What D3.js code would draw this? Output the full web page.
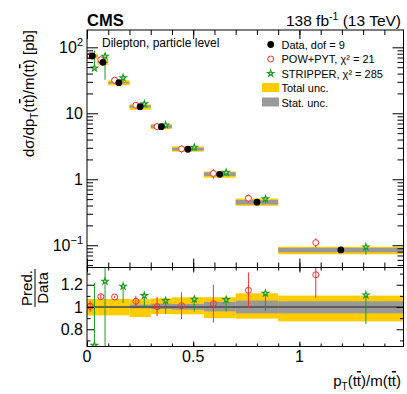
<!DOCTYPE html>
<html>
<head>
<meta charset="utf-8">
<script src="https://cdn.jsdelivr.net/npm/d3@7"></script>
<style>
  body { margin: 0; background: #fff; }
  text { font-family: "Liberation Sans", Arial, sans-serif; fill: #000; }
</style>
</head>
<body>
<script>
// bins in pT(tt)/m(tt)
var binEdges = [0, 0.05, 0.1, 0.2, 0.3, 0.4, 0.55, 0.7, 0.9, 1.49];
// measured cross section [pb]
var dataVal = [73.8, 59.3, 29.1, 12.6, 6.27, 2.85, 1.19, 0.449, 0.0849];
// relative uncertainties (up / down)
var totUp  = [0.072, 0.072, 0.072, 0.069, 0.078, 0.087, 0.087, 0.123, 0.102];
var totDn  = [0.075, 0.075, 0.075, 0.090, 0.063, 0.066, 0.100, 0.105, 0.129];
var statUp = [0.006, 0.006, 0.006, 0.021, 0.030, 0.027, 0.045, 0.057, 0.051];
var statDn = [0.006, 0.006, 0.006, 0.012, 0.018, 0.024, 0.039, 0.057, 0.057];
// predictions / data
var powRatio = [1.006, 1.093, 1.090, 1.051, 1.003, 1.012, 1.030, 1.150, 1.290];
var powErr   = [0.05, 0.02, 0.01, 0.05, 0.087, 0.12, 0.17, 0.16, 0.21];
var strRatio = [0.655, 1.231, 1.186, 1.102, 1.057, 1.069, 1.066, 1.123, 1.108];
var strErrUp = [0.56, 0.15, 0.02, 0.02, 0.02, 0.02, 0.02, 0.025, 0.025];
var strErrDn = [0.0, 0.69, 0.15, 0.11, 0.12, 0.11, 0.105, 0.16, 0.26];

var legendRows = ["Data, dof = 9", "POW+PYT, \u03C7\u00B2 = 21", "STRIPPER, \u03C7\u00B2 = 285", "Total unc.", "Stat. unc."];

var W = 407, H = 394;
var L = 87, R = 403.5;
var T1 = 30, B1 = 267.5, T2 = 267.5, B2 = 346.5;
var YEL = "#ffcc00", GRY = "#999999", RED = "#ff2a2a", GRN = "#1f9a1f";

var bins = dataVal.map(function(v, i) {
  return {i: i, lo: binEdges[i], hi: binEdges[i+1], v: v};
});

var x = d3.scaleLinear().domain([0, 1.49]).range([L, R]);
var yU = d3.scaleLog().domain([0.046, 183]).range([B1, T1]);
var yR = d3.scaleLinear().domain([0.645, 1.355]).range([B2, T2]);

function posAt(b, f) { return x(b.lo + f * (b.hi - b.lo)); }

var svg = d3.select("body").append("svg")
  .attr("width", W).attr("height", H);

var defs = svg.append("defs");
defs.append("clipPath").attr("id", "cu").append("rect")
  .attr("x", L).attr("y", T1).attr("width", R - L).attr("height", B1 - T1);
defs.append("clipPath").attr("id", "cr").append("rect")
  .attr("x", L).attr("y", T2).attr("width", R - L).attr("height", B2 - T2);

// ---------- upper panel ----------
var up = svg.append("g").attr("clip-path", "url(#cu)");

up.selectAll("rect.tot").data(bins).enter().append("rect")
  .attr("x", function(d) { return x(d.lo); })
  .attr("width", function(d) { return x(d.hi) - x(d.lo); })
  .attr("y", function(d) { return yU(d.v * (1 + totUp[d.i])) - 0.4; })
  .attr("height", function(d) { return yU(d.v * (1 - totDn[d.i])) - yU(d.v * (1 + totUp[d.i])) + 0.8; })
  .attr("fill", YEL);
up.selectAll("rect.stat").data(bins).enter().append("rect")
  .attr("x", function(d) { return x(d.lo); })
  .attr("width", function(d) { return x(d.hi) - x(d.lo); })
  .attr("y", function(d) { return yU(d.v * (1 + statUp[d.i])) - 0.6; })
  .attr("height", function(d) { return yU(d.v * (1 - statDn[d.i])) - yU(d.v * (1 + statUp[d.i])) + 1.2; })
  .attr("fill", GRY);

// predictions error bars
up.selectAll("line.pow").data(bins).enter().append("line")
  .attr("x1", function(d) { return posAt(d, 0.3); }).attr("x2", function(d) { return posAt(d, 0.3); })
  .attr("y1", function(d) { return yU(d.v * (powRatio[d.i] + powErr[d.i])); })
  .attr("y2", function(d) { return yU(d.v * (powRatio[d.i] - powErr[d.i])); })
  .attr("stroke", RED).attr("stroke-width", 1);
up.selectAll("line.str").data(bins).enter().append("line")
  .attr("x1", function(d) { return posAt(d, 0.7); }).attr("x2", function(d) { return posAt(d, 0.7); })
  .attr("y1", function(d) { return yU(d.v * (strRatio[d.i] + strErrUp[d.i])); })
  .attr("y2", function(d) { return yU(d.v * (strRatio[d.i] - strErrDn[d.i])); })
  .attr("stroke", GRN).attr("stroke-width", 1);

up.selectAll("circle.pow").data(bins).enter().append("circle")
  .attr("cx", function(d) { return posAt(d, 0.3); })
  .attr("cy", function(d) { return yU(d.v * powRatio[d.i]); })
  .attr("r", 3).attr("fill", "#fff").attr("stroke", RED).attr("stroke-width", 1);
var star = d3.symbol().type(d3.symbolStar).size(13);
up.selectAll("path.str").data(bins).enter().append("path")
  .attr("d", star)
  .attr("transform", function(d) { return "translate(" + posAt(d, 0.7) + "," + yU(d.v * strRatio[d.i]) + ")"; })
  .attr("fill", "#b5e6b5").attr("stroke", GRN).attr("stroke-width", 1.1);
up.selectAll("circle.dat").data(bins).enter().append("circle")
  .attr("cx", function(d) { return posAt(d, 0.5); })
  .attr("cy", function(d) { return yU(d.v); })
  .attr("r", 3.4).attr("fill", "#000");

// ---------- ratio panel ----------
var rp = svg.append("g").attr("clip-path", "url(#cr)");
rp.selectAll("rect.tot").data(bins).enter().append("rect")
  .attr("x", function(d) { return x(d.lo); })
  .attr("width", function(d) { return x(d.hi) - x(d.lo); })
  .attr("y", function(d) { return yR(1 + totUp[d.i]); })
  .attr("height", function(d) { return yR(1 - totDn[d.i]) - yR(1 + totUp[d.i]); })
  .attr("fill", YEL);
rp.selectAll("rect.stat").data(bins).enter().append("rect")
  .attr("x", function(d) { return x(d.lo); })
  .attr("width", function(d) { return x(d.hi) - x(d.lo); })
  .attr("y", function(d) { return yR(1 + statUp[d.i]); })
  .attr("height", function(d) { return yR(1 - statDn[d.i]) - yR(1 + statUp[d.i]); })
  .attr("fill", GRY);
rp.append("line")
  .attr("x1", L).attr("x2", R).attr("y1", yR(1)).attr("y2", yR(1))
  .attr("stroke", "#222").attr("stroke-width", 1);

rp.selectAll("line.pow").data(bins).enter().append("line")
  .attr("x1", function(d) { return posAt(d, 0.3); }).attr("x2", function(d) { return posAt(d, 0.3); })
  .attr("y1", function(d) { return yR(powRatio[d.i] + powErr[d.i]); })
  .attr("y2", function(d) { return yR(powRatio[d.i] - powErr[d.i]); })
  .attr("stroke", RED).attr("stroke-width", 1);
rp.selectAll("line.str").data(bins).enter().append("line")
  .attr("x1", function(d) { return posAt(d, 0.7); }).attr("x2", function(d) { return posAt(d, 0.7); })
  .attr("y1", function(d) { return yR(strRatio[d.i] + strErrUp[d.i]); })
  .attr("y2", function(d) { return yR(strRatio[d.i] - strErrDn[d.i]); })
  .attr("stroke", GRN).attr("stroke-width", 1);
rp.selectAll("circle.pow").data(bins).enter().append("circle")
  .attr("cx", function(d) { return posAt(d, 0.3); })
  .attr("cy", function(d) { return yR(powRatio[d.i]); })
  .attr("r", 3).attr("fill", "none").attr("stroke", RED).attr("stroke-width", 1);
rp.selectAll("path.str").data(bins).enter().append("path")
  .attr("d", star)
  .attr("transform", function(d) { return "translate(" + posAt(d, 0.7) + "," + yR(strRatio[d.i]) + ")"; })
  .attr("fill", "#b5e6b5").attr("stroke", GRN).attr("stroke-width", 1.1);

// ---------- axes / ticks ----------
function ticks(g, axis) {
  g.call(axis);
  g.select(".domain").remove();
  g.selectAll("line").attr("stroke", "#000");
  g.selectAll("text").remove();
}
var decades = [0.1, 1, 10, 100];
var minorsU = [];
[0.01, 0.1, 1, 10, 100].forEach(function(p) {
  for (var k = 2; k <= 9; k++) if (p * k > 0.046 && p * k < 183) minorsU.push(p * k);
});
var xMaj = [0, 0.5, 1];
var xMin = d3.range(1, 15).map(function(k) { return k / 10; });

ticks(svg.append("g").attr("transform", "translate(" + L + ",0)"), d3.axisLeft(yU).tickValues(decades).tickSize(-11));
ticks(svg.append("g").attr("transform", "translate(" + L + ",0)"), d3.axisLeft(yU).tickValues(minorsU).tickSize(-6));
ticks(svg.append("g").attr("transform", "translate(" + R + ",0)"), d3.axisRight(yU).tickValues(decades).tickSize(-11));
ticks(svg.append("g").attr("transform", "translate(" + R + ",0)"), d3.axisRight(yU).tickValues(minorsU).tickSize(-6));
ticks(svg.append("g").attr("transform", "translate(0," + B1 + ")"), d3.axisBottom(x).tickValues(xMaj).tickSize(-9));
ticks(svg.append("g").attr("transform", "translate(0," + B1 + ")"), d3.axisBottom(x).tickValues(xMin).tickSize(-5));
ticks(svg.append("g").attr("transform", "translate(0," + T1 + ")"), d3.axisTop(x).tickValues(xMaj).tickSize(-9));
ticks(svg.append("g").attr("transform", "translate(0," + T1 + ")"), d3.axisTop(x).tickValues(xMin).tickSize(-5));

var rMaj = [0.8, 1, 1.2];
var rMin = [0.7, 0.9, 1.1, 1.3];
ticks(svg.append("g").attr("transform", "translate(" + L + ",0)"), d3.axisLeft(yR).tickValues(rMaj).tickSize(-7));
ticks(svg.append("g").attr("transform", "translate(" + L + ",0)"), d3.axisLeft(yR).tickValues(rMin).tickSize(-3.5));
ticks(svg.append("g").attr("transform", "translate(" + R + ",0)"), d3.axisRight(yR).tickValues(rMaj).tickSize(-7));
ticks(svg.append("g").attr("transform", "translate(" + R + ",0)"), d3.axisRight(yR).tickValues(rMin).tickSize(-3.5));
ticks(svg.append("g").attr("transform", "translate(0," + B2 + ")"), d3.axisBottom(x).tickValues(xMaj).tickSize(-5));
ticks(svg.append("g").attr("transform", "translate(0," + B2 + ")"), d3.axisBottom(x).tickValues(xMin).tickSize(-3));
ticks(svg.append("g").attr("transform", "translate(0," + T2 + ")"), d3.axisTop(x).tickValues(xMaj).tickSize(-5));
ticks(svg.append("g").attr("transform", "translate(0," + T2 + ")"), d3.axisTop(x).tickValues(xMin).tickSize(-3));

// frames
svg.append("rect").attr("x", L).attr("y", T1).attr("width", R - L).attr("height", B1 - T1)
  .attr("fill", "none").attr("stroke", "#000").attr("stroke-width", 1);
svg.append("rect").attr("x", L).attr("y", T2).attr("width", R - L).attr("height", B2 - T2)
  .attr("fill", "none").attr("stroke", "#000").attr("stroke-width", 1);

// tick labels
var fs = 16;
var decLab = [{v: 100, b: "10", s: "2"}, {v: 10, b: "10", s: ""}, {v: 1, b: "1", s: ""}, {v: 0.1, b: "10", s: "\u22121"}];
decLab.forEach(function(d) {
  var t = svg.append("text").attr("x", L - 4).attr("y", yU(d.v) + 5.5)
    .attr("text-anchor", "end").attr("font-size", fs);
  t.append("tspan").text(d.b);
  if (d.s) t.append("tspan").attr("dy", -7).attr("font-size", 11).text(d.s);
});
rMaj.forEach(function(v) {
  svg.append("text").attr("x", L - 4).attr("y", yR(v) + 5.5)
    .attr("text-anchor", "end").attr("font-size", fs).text(d3.format("")(v));
});
xMaj.forEach(function(v) {
  svg.append("text").attr("x", x(v)).attr("y", 362)
    .attr("text-anchor", "middle").attr("font-size", fs).text(v);
});

// axis titles
var yt = svg.append("text").attr("transform", "translate(34," + T1 + ") rotate(-90)")
  .attr("text-anchor", "end").attr("font-size", 15);
yt.append("tspan").text("d\u03C3/dp");
yt.append("tspan").attr("dy", 4).attr("font-size", 10).text("T");
yt.append("tspan").attr("dy", -4).text("(t");
yt.append("tspan").attr("text-decoration", "overline").text("t");
yt.append("tspan").text(")/m(t");
yt.append("tspan").attr("text-decoration", "overline").text("t");
yt.append("tspan").text(") [pb]");

var xt = svg.append("text").attr("x", 401).attr("y", 386)
  .attr("text-anchor", "end").attr("font-size", 15);
xt.append("tspan").text("p");
xt.append("tspan").attr("dy", 4).attr("font-size", 10).text("T");
xt.append("tspan").attr("dy", -4).text("(t");
xt.append("tspan").attr("text-decoration", "overline").text("t");
xt.append("tspan").text(")/m(t");
xt.append("tspan").attr("text-decoration", "overline").text("t");
xt.append("tspan").text(")");

var rt = svg.append("g").attr("transform", "translate(35,288) rotate(-90)");
rt.append("text").attr("x", 0).attr("y", -3).attr("text-anchor", "middle").attr("font-size", 15).text("Pred.");
rt.append("text").attr("x", 0).attr("y", 13).attr("text-anchor", "middle").attr("font-size", 15).text("Data");
rt.append("line").attr("x1", -19).attr("x2", 19).attr("y1", 0).attr("y2", 0)
  .attr("stroke", "#000").attr("stroke-width", 1);

// header
svg.append("text").attr("x", L).attr("y", 26).attr("font-size", 16.5).attr("font-weight", "bold").text("CMS");
var lum = svg.append("text").attr("x", 401).attr("y", 26).attr("text-anchor", "end").attr("font-size", 15.5);
lum.append("tspan").text("138 fb");
lum.append("tspan").attr("dy", -6).attr("font-size", 10.5).text("-1");
lum.append("tspan").attr("dy", 6).text(" (13 TeV)");

svg.append("text").attr("x", 102).attr("y", 46.5).attr("font-size", 12).text("Dilepton, particle level");

// legend
var lx = 270.7, ly0 = 44.5, dy = 14.5;
svg.append("circle").attr("cx", lx).attr("cy", ly0).attr("r", 3.4).attr("fill", "#000");
svg.append("circle").attr("cx", lx).attr("cy", ly0 + dy).attr("r", 3).attr("fill", "none").attr("stroke", RED);
svg.append("path").attr("d", star).attr("transform", "translate(" + lx + "," + (ly0 + 2 * dy) + ")")
  .attr("fill", "#b5e6b5").attr("stroke", GRN).attr("stroke-width", 1.1);
svg.append("rect").attr("x", 262).attr("y", ly0 + 3 * dy - 5).attr("width", 17).attr("height", 9).attr("fill", YEL);
svg.append("rect").attr("x", 262).attr("y", ly0 + 4 * dy - 5).attr("width", 17).attr("height", 9).attr("fill", GRY);
legendRows.forEach(function(s, i) {
  svg.append("text").attr("x", 281.5).attr("y", ly0 + i * dy + 4).attr("font-size", 11).text(s);
});
</script>
</body>
</html>
